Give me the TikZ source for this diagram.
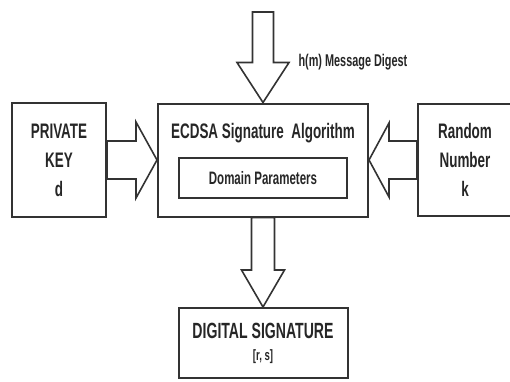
\documentclass[tikz,border=0pt]{standalone}
\usepackage{fontspec}
\setmainfont{Liberation Sans}[FakeStretch=0.64]
\usetikzlibrary{calc}
\tikzset{
	box/.style={draw=black!80, line width=2pt, inner sep=0pt, align=center, text=black!85, font=\bfseries\fontsize{21}{29}\selectfont},
	fatv/.style args={#1/#2/#3}{draw=black!80, line width=1.6pt, to path={let \p1=(\tikztostart), \p2=(\tikztotarget) in ({\x1-#1},\y1) -- ({\x1-#1},{\y2+#3}) -- ({\x1-#2},{\y2+#3}) -- (\x1,\y2) -- ({\x1+#2},{\y2+#3}) -- ({\x1+#1},{\y2+#3}) -- ({\x1+#1},\y1) -- cycle}},
	fath/.style args={#1/#2/#3}{draw=black!80, line width=1.6pt, to path={let \p1=(\tikztostart), \p2=(\tikztotarget) in (\x1,{\y1-#1}) -- ({\x2-(#3)},{\y1-#1}) -- ({\x2-(#3)},{\y1-#2}) -- (\x2,\y1) -- ({\x2-(#3)},{\y1+#2}) -- ({\x2-(#3)},{\y1+#1}) -- (\x1,{\y1+#1}) -- cycle}}
}
\begin{document}
\begin{tikzpicture}[x=1pt,y=-1pt]
		\useasboundingbox (0,0) rectangle (510,381);
		\node[box, minimum width=210pt, minimum height=113pt] (alg) at (263,160) {};
		\node[anchor=base, text=black!85, font=\bfseries\fontsize{21}{25}\selectfont] (algt) at (263,138) {ECDSA Signature\ \ Algorithm};
		\node[box, minimum width=168pt, minimum height=40pt, font=\bfseries\fontsize{18}{20}\selectfont] (dom) at (263,178) {Domain Parameters};
		\node[box, minimum width=94pt, minimum height=114pt] (pk) at (59,160) {PRIVATE\\KEY\\d};
		\node[box, minimum width=94pt, minimum height=112pt] (rn) at (465,160) {Random\\Number\\k};
		\node[box, minimum width=169pt, minimum height=70pt, font=\bfseries\fontsize{22}{26}\selectfont] (ds) at (263,343) {DIGITAL SIGNATURE\\[-4pt]{\fontsize{15}{17}\selectfont [r, s]}};
		\coordinate (dg) at (263,12);
		\node[anchor=base west, text=black!85, font=\bfseries\fontsize{17}{20}\selectfont] (dgt) at (295,66) {h(m) Message Digest};
		\draw[fatv=10.5pt/26pt/40pt] (dg) to (alg.north);
		\draw[fath=19pt/38pt/21pt] (pk.east) to (alg.west);
		\draw[fath=19pt/37pt/-20pt] (rn.west) to (alg.east);
		\draw[fatv=11.5pt/21.5pt/37pt] (alg.south) to (ds.north);
\end{tikzpicture}
\end{document}
